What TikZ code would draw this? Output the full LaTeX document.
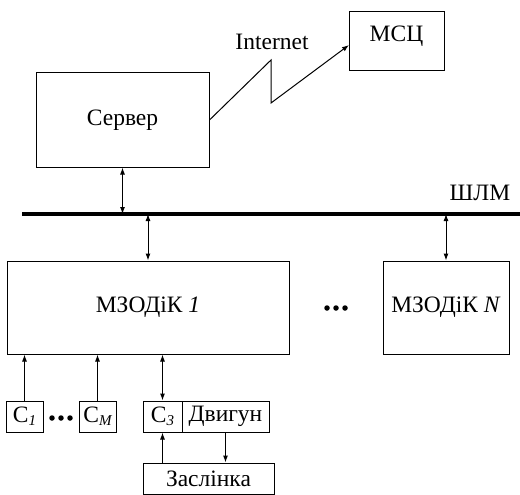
\documentclass[tikz,border=0pt]{standalone}
\usepackage{fontspec}
\setmainfont{Liberation Serif}
\usetikzlibrary{arrows.meta}
\begin{document}
\begin{tikzpicture}[x=1pt,y=-1pt,
  box/.style={draw,line width=1pt,inner sep=0pt,anchor=center},
  conn/.style={line width=1pt,-{Latex[length=7pt,width=5pt]}},
  biconn/.style={line width=1pt,{Latex[length=7pt,width=5pt]}-{Latex[length=7pt,width=5pt]}},
  txt/.style={font=\fontsize{23.5}{26}\selectfont},
  dot/.style={fill,circle,inner sep=0pt,minimum size=5.5pt}
]
\useasboundingbox (0,0) rectangle (520,495);
% top
\node[box,txt,minimum width=173pt,minimum height=94pt] (server) at (122.5,120) {Сервер};
\node[box,minimum width=95pt,minimum height=59pt] (msc) at (396.5,41.5) {};
\node[txt] (msct) at (396.5,36) {МСЦ};
\node[txt] (inet) at (272,42) {Internet};
\coordinate (z1) at (271,60);
\coordinate (z2) at (271,103);
\coordinate (mscin) at (349,45);
\draw[conn] (server.east) -- (z1) -- (z2) -- (mscin);
% bus
\coordinate (busL) at (22,214);
\coordinate (busR) at (520,214);
\draw[line width=3.6pt] (busL) -- (busR);
\node[txt] (shlm) at (480,193) {ШЛМ};
\draw[biconn] (server.south) -- (server.south |- busL);
% modules
\node[box,txt,minimum width=282pt,minimum height=93pt] (mz1) at (148,307.5) {МЗОДіК \textit{1}};
\node[box,txt,minimum width=126pt,minimum height=93pt] (mzN) at (446,307.5) {МЗОДіК \textit{N}};
\draw[biconn] (mz1.north |- busL) -- (mz1.north);
\draw[biconn] (mzN.north |- busL) -- (mzN.north);
\node[dot] (d1) at (327,308) {};
\node[dot] (d2) at (336,308) {};
\node[dot] (d3) at (345,308) {};
% sensors
\node[box,txt,minimum width=37pt,minimum height=31pt] (c1) at (24.5,416.5) {С\raisebox{-0.25ex}{\fontsize{15}{17}\selectfont\itshape 1}};
\node[box,txt,minimum width=37pt,minimum height=31pt] (cM) at (97.5,416.5) {С\raisebox{-0.25ex}{\fontsize{15}{17}\selectfont\itshape M}};
\node[box,txt,minimum width=39pt,minimum height=31pt] (c3) at (162.5,416.5) {С\raisebox{-0.25ex}{\fontsize{15}{17}\selectfont\itshape 3}};
\node[box,txt,minimum width=87pt,minimum height=31pt] (dv) at (225.5,416.5) {Двигун};
\node[box,txt,minimum width=131pt,minimum height=31pt] (zas) at (208.5,478.5) {Заслінка};
\node[dot] (e1) at (52,418) {};
\node[dot] (e2) at (61,418) {};
\node[dot] (e3) at (70,418) {};
\draw[conn] (c1.north) -- (c1.north |- mz1.south);
\draw[conn] (cM.north) -- (cM.north |- mz1.south);
\draw[biconn] (c3.north) -- (c3.north |- mz1.south);
\draw[conn] (c3.south |- zas.north) -- (c3.south);
\draw[conn] (dv.south) -- (dv.south |- zas.north);
\end{tikzpicture}
\end{document}
